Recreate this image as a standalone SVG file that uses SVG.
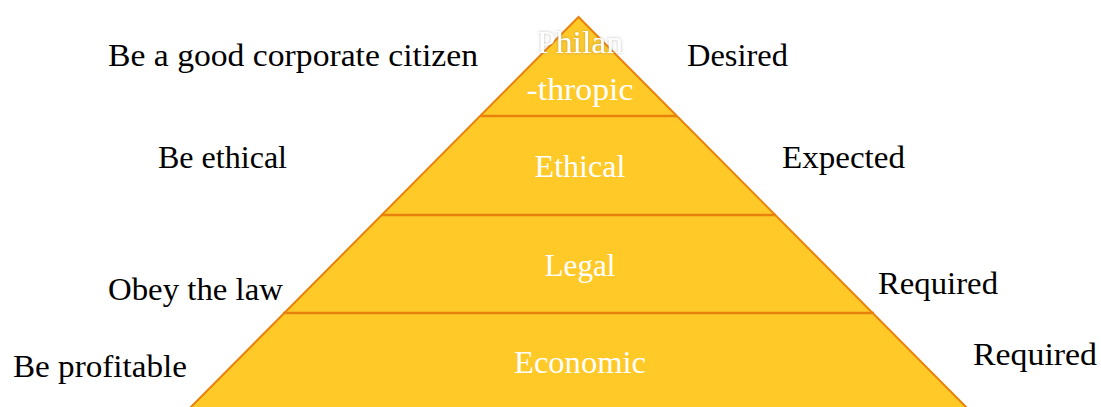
<svg xmlns="http://www.w3.org/2000/svg" width="1101" height="407" viewBox="0 0 1101 407">
  <style>
    .lbl { font-family: "Liberation Serif", "Times New Roman", serif; font-size: 32px; fill: #000; }
    .tier { font-family: "Liberation Serif", "Times New Roman", serif; font-size: 32px; fill: #fff; text-anchor: middle; }
    .band { fill: none; stroke: #E8820C; stroke-width: 2.5; }
  </style>
  <defs>
    <filter id="halo" x="-20%" y="-40%" width="140%" height="180%">
      <feGaussianBlur in="SourceAlpha" stdDeviation="1.5" result="b"/>
      <feFlood flood-color="#888" flood-opacity="0.6"/>
      <feComposite in2="b" operator="in" result="s"/>
      <feMerge><feMergeNode in="s"/><feMergeNode in="SourceGraphic"/></feMerge>
    </filter>
  </defs>

  <!-- pyramid body -->
  <g id="pyramid">
    <polygon points="578.5,17 178,420 979,420" fill="#FFC928" stroke="#E8820C" stroke-width="2" stroke-linejoin="miter"/>
  </g>

  <!-- tier dividers -->
  <g id="connectors">
    <line class="band" x1="480" y1="116" x2="677" y2="116"/>
    <line class="band" x1="381" y1="215" x2="776" y2="215"/>
    <line class="band" x1="283" y1="313" x2="874" y2="313"/>
  </g>

  <g id="tier-philanthropic">
    <text class="tier" x="580" y="53" textLength="86" lengthAdjust="spacingAndGlyphs" filter="url(#halo)">Philan</text>
    <text class="tier" x="580" y="100" textLength="107" lengthAdjust="spacingAndGlyphs">-thropic</text>
  </g>
  <g id="tier-ethical">
    <text class="tier" x="580" y="177" textLength="91" lengthAdjust="spacingAndGlyphs">Ethical</text>
  </g>
  <g id="tier-legal">
    <text class="tier" x="580" y="276" textLength="71" lengthAdjust="spacingAndGlyphs">Legal</text>
  </g>
  <g id="tier-economic">
    <text class="tier" x="580" y="373" textLength="132" lengthAdjust="spacingAndGlyphs">Economic</text>
  </g>

  <!-- left-hand descriptions -->
  <g id="label-citizen"><text class="lbl" x="108" y="66" textLength="370" lengthAdjust="spacingAndGlyphs">Be a good corporate citizen</text></g>
  <g id="label-ethical"><text class="lbl" x="158" y="168" textLength="129" lengthAdjust="spacingAndGlyphs">Be ethical</text></g>
  <g id="label-law"><text class="lbl" x="108" y="300" textLength="175" lengthAdjust="spacingAndGlyphs">Obey the law</text></g>
  <g id="label-profitable"><text class="lbl" x="13" y="377" textLength="174" lengthAdjust="spacingAndGlyphs">Be profitable</text></g>

  <!-- right-hand expectations -->
  <g id="label-desired"><text class="lbl" x="687" y="66" textLength="101" lengthAdjust="spacingAndGlyphs">Desired</text></g>
  <g id="label-expected"><text class="lbl" x="782" y="168" textLength="123" lengthAdjust="spacingAndGlyphs">Expected</text></g>
  <g id="label-required-legal"><text class="lbl" x="878" y="294" textLength="120" lengthAdjust="spacingAndGlyphs">Required</text></g>
  <g id="label-required-economic"><text class="lbl" x="973" y="365" textLength="124" lengthAdjust="spacingAndGlyphs">Required</text></g>
</svg>
